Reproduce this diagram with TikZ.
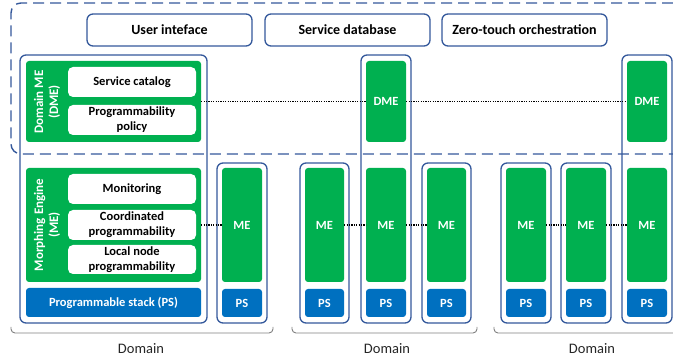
\documentclass[tikz,border=0pt]{standalone}
\usepackage{fontspec}
\setmainfont{Carlito}

\definecolor{frameblue}{RGB}{52,88,155}
\definecolor{megreen}{RGB}{0,176,80}
\definecolor{psblue}{RGB}{0,112,192}
\definecolor{bracegray}{RGB}{128,128,128}

% \blk{style}{name}{x1}{y1}{x2}{y2}{text}: a box given by its corners (in px)
\newcommand\blk[7]{%
  \node[#1, minimum width={((#5)-(#3))*1pt}, minimum height={((#6)-(#4))*1pt}]
    (#2) at ({((#3)+(#5))/2},{((#4)+(#6))/2}) {#7};}

% one column of a domain: frame, ME block and PS block
\newcommand\column[3]{% name, x1, x2
  \blk{frame}{#1f}{#2}{163}{#3}{323}{}
  \blk{green}{#1me}{#2+5}{168}{#3-5}{282}{ME}
  \blk{blue}{#1ps}{#2+5}{289}{#3-5}{317}{PS}}
% a column that also carries a DME block
\newcommand\tallcolumn[3]{%
  \blk{frame}{#1f}{#2}{55}{#3}{323}{}
  \blk{green}{#1dme}{#2+5}{61}{#3-5}{142}{DME}
  \blk{green}{#1me}{#2+5}{168}{#3-5}{282}{ME}
  \blk{blue}{#1ps}{#2+5}{289}{#3-5}{317}{PS}}

\newcommand\domainbrace[2]{% x1, x2
  \draw[brace] (#1,327) -- (#1,333) -- (#2,333) -- (#2,327);}

\tikzset{
  frame/.style={draw=frameblue, line width=1.3pt, rounded corners=6pt, inner sep=0pt},
  topbox/.style={frame, font=\fontsize{14}{16}\selectfont\bfseries},
  green/.style={fill=megreen, rounded corners=3pt, inner sep=0pt, text=white,
    font=\fontsize{12.5}{15}\selectfont\bfseries},
  blue/.style={green, fill=psblue},
  white/.style={fill=white, rounded corners=5pt, inner sep=0pt, align=center,
    font=\fontsize{12.5}{15}\selectfont\bfseries},
  sidelabel/.style={rotate=90, text=white, align=center, inner sep=0pt,
    font=\fontsize{13}{15}\selectfont\bfseries},
  link/.style={line width=1.3pt, dash pattern=on 1.2pt off 1.2pt},
  region/.style={draw=frameblue, line width=1.4pt, dash pattern=on 11pt off 6pt,
    rounded corners=10pt},
  brace/.style={draw=bracegray, line width=0.9pt, rounded corners=4pt},
  domainlabel/.style={font=\fontsize{14.5}{16}\selectfont, text=black!85}
}

\begin{document}
\begin{tikzpicture}[x=1pt, y=-1pt]
\useasboundingbox (0,0) rectangle (673,363);

% global services on top
\blk{topbox}{ui}{87}{14}{252}{46}{User inteface}
\blk{topbox}{sdb}{265}{14}{430}{46}{Service database}
\blk{topbox}{zto}{442}{14}{607}{46}{Zero-touch orchestration}

% first domain: detailed column
\blk{frame}{d1f}{20}{55}{207}{323}{}
\blk{green}{d1dme}{26}{61}{201}{142}{}
\node[sidelabel] (dmelabel) at (47,102) {Domain ME\\(DME)};
\blk{white}{sc}{68}{67}{196}{97}{Service catalog}
\blk{white}{pp}{68}{105}{196}{135}{Programmability\\policy}
\blk{green}{d1me}{26}{168}{201}{282}{}
\node[sidelabel] (melabel) at (47,225) {Morphing Engine\\(ME)};
\blk{white}{mon}{68}{174}{196}{204}{Monitoring}
\blk{white}{cp}{68}{210}{196}{240}{Coordinated\\programmability}
\blk{white}{lnp}{68}{245}{196}{274}{Local node\\programmability}
\blk{blue}{d1ps}{26}{288}{201}{317}{Programmable stack (PS)}
\column{a}{217}{267}

% second domain
\column{b}{300}{349}
\tallcolumn{c}{361}{411}
\column{d}{422}{471}

% third domain
\column{e}{501}{551}
\column{g}{561}{611}
\tallcolumn{h}{622}{672}

% dashed region of the domain management plane
\draw[region] (690,3) -- (11,3) -- (11,154) -- (690,154);

% dotted links between engines
\draw[link] (d1dme.east) -- (cdme.west);
\draw[link] (cdme.east) -- (hdme.west);
\draw[link] (d1me.east) -- (ame.west);
\draw[link] (bme.east) -- (cme.west);
\draw[link] (cme.east) -- (dme.west);
\draw[link] (eme.east) -- (gme.west);
\draw[link] (gme.east) -- (hme.west);

% domain brackets
\domainbrace{11}{273}
\domainbrace{292}{477}
\domainbrace{494}{690}
\node[domainlabel] (dom1) at (141,349) {Domain};
\node[domainlabel] (dom2) at (387,349) {Domain};
\node[domainlabel] (dom3) at (592,349) {Domain};
\end{tikzpicture}
\end{document}
